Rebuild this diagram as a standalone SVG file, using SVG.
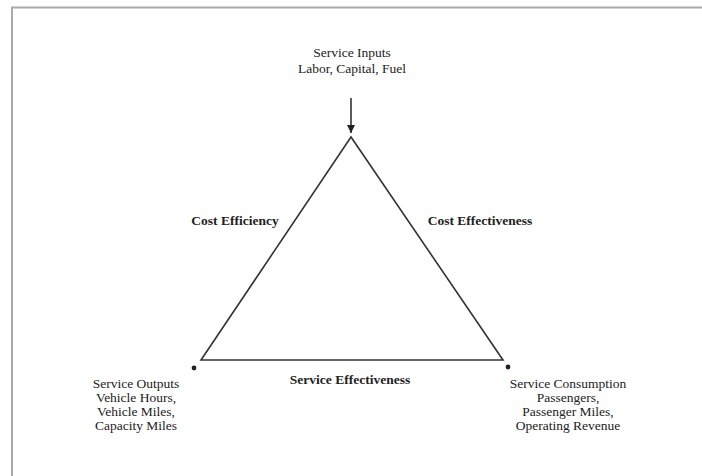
<svg xmlns="http://www.w3.org/2000/svg" width="702" height="476" viewBox="0 0 702 476">
<defs>
<style>
text{font-family:"Liberation Serif","Times New Roman",serif;font-size:13.5px;fill:#222;text-anchor:middle}
.b{font-weight:bold}
.ln{stroke:#333;stroke-width:1.6;fill:none}
</style>
<marker id="ah" viewBox="0 0 10 10" refX="10" refY="5" markerWidth="5" markerHeight="5" orient="auto"><path d="M0,0L10,5L0,10z" fill="#222"/></marker>
</defs>
<rect width="702" height="476" fill="#fff"/>
<path d="M12,476V7.5H702" stroke="#aaa" stroke-width="2" fill="none"/>
<g id="connectors">
<path class="ln" d="M351,137L201,360H503Z" stroke-linejoin="miter"/>
<line class="ln" x1="351" y1="98" x2="351" y2="133" marker-end="url(#ah)"/>
<circle cx="194" cy="368" r="2.4" fill="#222"/>
<circle cx="508" cy="367" r="2.4" fill="#222"/>
<text class="b" x="235" y="225">Cost Efficiency</text>
<text class="b" x="480" y="225">Cost Effectiveness</text>
<text class="b" x="350" y="384">Service Effectiveness</text>
</g>
<g id="inputs">
<text x="352" y="57">Service Inputs</text>
<text x="352" y="73">Labor, Capital, Fuel</text>
</g>
<g id="outputs">
<text x="136" y="388">Service Outputs</text>
<text x="136" y="402">Vehicle Hours,</text>
<text x="136" y="416">Vehicle Miles,</text>
<text x="136" y="430">Capacity Miles</text>
</g>
<g id="consumption">
<text x="568" y="388">Service Consumption</text>
<text x="568" y="402">Passengers,</text>
<text x="568" y="416">Passenger Miles,</text>
<text x="568" y="430">Operating Revenue</text>
</g>
</svg>
